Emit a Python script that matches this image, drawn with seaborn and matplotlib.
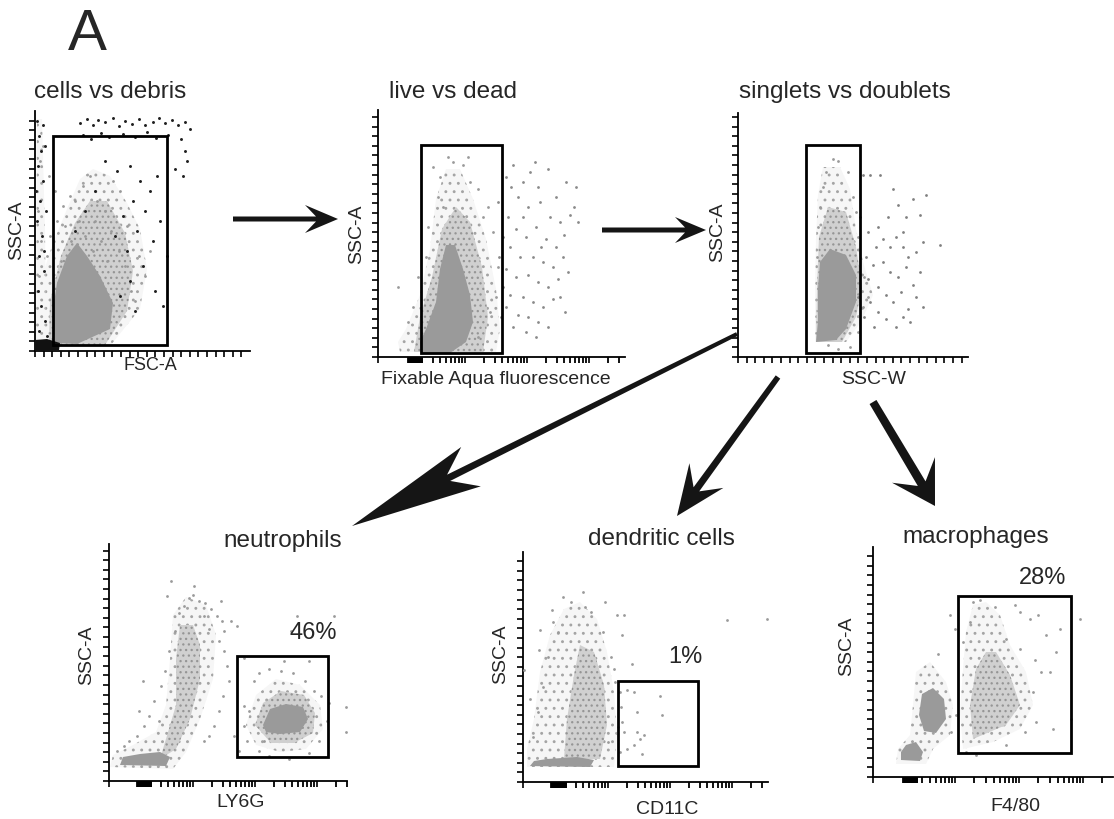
import numpy as np
import matplotlib
matplotlib.use("Agg")
import matplotlib.pyplot as plt
from matplotlib.patches import Rectangle, Polygon
import seaborn as sns

sns.set_theme(style="white")
plt.rcParams['font.family'] = ['Liberation Sans', 'DejaVu Sans']
plt.rcParams['hatch.linewidth'] = 0.9

FIG_W, FIG_H = 1114, 820

# ---------------------------------------------------------------
# data, in channel units (x, y from the origin)
# ---------------------------------------------------------------

# cells vs debris (FSC-A / SSC-A)
p1_halo = [(2,5),(75,5),(105,42),(112,82),(105,122),(92,148),(75,175),(58,182),(45,172),(32,142),(18,108),(5,68),(2,28)]
p1_edge = [(1,5),(11,5),(10,120),(7,232),(2,232)]
p1_band = [(14,6),(70,6),(92,40),(98,80),(90,118),(72,150),(55,150),(40,128),(26,95),(15,50)]
p1_core = [(20,8),(42,7),(75,22),(78,48),(65,75),(52,95),(42,108),(32,95),(22,68),(18,42)]
p1_debris = [(0,0),(24,1),(25,8),(12,12),(0,11)]
p1_dark = [(45,228),(52,232),(58,226),(63,231),(70,229),(78,233),(84,225),(90,230),(97,227),(104,232),
           (110,226),(118,229),(124,233),(130,228),(137,231),(143,226),(150,229),(155,222),(48,216),(56,212),
           (66,218),(74,214),(88,217),(100,214),(112,219),(121,213),(133,216),(146,212),(150,200),(152,190),
           (148,175),(140,182),(70,190),(82,180),(95,185),(105,170),(115,160),(122,175),(98,150),(88,135),
           (110,140),(125,130),(102,120),(118,110),(92,100),(80,115),(132,95),(108,85),(95,70),(120,60),
           (85,55),(60,160),(50,140),(40,120),(128,45),(100,40),(2,230),(4,215),(6,200),(3,185),(8,170),
           (5,150),(2,130),(7,115),(4,95),(9,80),(3,60),(6,45),(10,30),(4,20),(12,15),(8,226),(10,205),
           (1,160),(11,140),(9,100)]
p1_grey = [(40,150),(48,165),(55,175),(62,150),(70,140),(76,120),(84,100),(90,85),(96,60),(100,50),
           (60,130),(66,110),(72,90),(58,100),(50,115),(44,130),(36,110),(30,125),(26,90),(85,160),
           (78,170),(92,125),(104,95),(110,75),(115,100),(35,155),(28,145),(22,130),(15,115),(12,95),
           (20,160),(14,175),(5,190),(8,205),(3,140),(6,110),(4,75)]
p1_gate = (18, 6, 114, 209)

# live vs dead (Fixable Aqua / SSC-A)
p2_halo = [(22,5),(118,5),(122,28),(118,68),(108,118),(95,158),(82,188),(68,188),(58,158),(52,108),(42,62),(28,28),(20,15)]
p2_band = [(36,5),(105,5),(110,40),(104,90),(92,135),(78,150),(64,128),(54,80),(42,40)]
p2_core = [(43,4),(72,4),(88,15),(95,35),(92,62),(85,88),(77,112),(68,112),(62,88),(58,55),(48,28),(42,15)]
p2_dead = [(128,180),(135,192),(145,175),(152,185),(160,170),(170,188),(178,160),(188,175),(196,150),(140,160),
           (150,150),(162,155),(172,140),(182,135),(192,142),(130,140),(138,128),(148,120),(158,130),(168,118),
           (178,110),(186,122),(132,110),(142,100),(155,100),(165,95),(175,90),(185,100),(128,88),(138,80),
           (150,82),(160,75),(170,70),(180,78),(132,62),(145,60),(155,55),(165,50),(175,58),(140,42),
           (150,40),(160,35),(170,30),(148,25),(158,20),(125,70),(128,50),(135,30),(182,60),(190,85),
           (198,170),(200,135),(125,120),(187,45),(163,110),(145,140),(133,170),(157,195),(120,155),(121,100),(123,40)]
p2_grey = [(70,200),(75,195),(85,192),(62,180),(92,175),(100,168),(60,160),(110,150),(105,140),(50,130),
           (115,125),(48,100),(120,90),(118,60),(40,80),(35,50),(30,35),(112,45),(100,20),(20,70),
           (55,190),(90,200),(65,150)]
p2_gate = (43, 4, 81, 208)

# singlets vs doublets (SSC-W / SSC-A)
p3_halo = [(77,15),(108,15),(123,35),(135,62),(125,95),(118,128),(112,168),(102,190),(85,190),(80,162),(78,118),(77,68)]
p3_band = [(78,15),(104,15),(118,40),(124,70),(118,110),(108,145),(90,150),(81,120),(79,70)]
p3_core = [(78,15),(98,17),(108,28),(118,55),(118,82),(108,102),(92,108),(82,95),(80,68),(80,35)]
p3_doublets = [(125,182),(132,182),(142,182),(155,168),(160,152),(168,140),(175,158),(182,142),(188,162),(150,140),
               (140,130),(130,125),(145,118),(158,120),(165,110),(170,100),(178,105),(185,115),(202,112),(138,110),
               (128,100),(135,92),(145,95),(152,85),(160,80),(168,90),(175,72),(182,85),(130,78),(140,70),
               (148,62),(155,55),(163,65),(170,48),(178,60),(132,55),(140,45),(148,38),(158,30),(165,40),
               (172,35),(136,30),(126,40),(152,110),(120,60),(122,140),(185,50),(165,125)]
p3_grey = [(95,198),(100,196),(88,185),(110,185),(85,170),(115,160),(82,150),(118,145),(80,130),(120,120),
           (79,100),(126,80),(130,60),(125,50),(120,25),(112,10),(100,8),(90,12),(83,20)]
p3_gate = (68, 4, 54, 208)

# neutrophils (LY6G / SSC-A)
p4_halo = [(1,14),(64,12),(77,29),(91,62),(104,102),(107,146),(97,176),(77,184),(64,166),(61,122),(57,76),(47,49),(24,36),(4,26)]
p4_band = [(51,22),(67,32),(81,62),(91,102),(91,136),(84,156),(71,156),(67,122),(67,76),(57,42)]
p4_core = [(11,16),(57,15),(61,24),(51,29),(31,27),(14,24)]
p4_halo2 = [(137,56),(147,86),(167,102),(191,96),(211,76),(214,52),(197,32),(171,29),(147,36)]
p4_band2 = [(146,56),(154,78),(172,90),(195,86),(206,68),(204,48),(185,38),(162,38)]
p4_core2 = [(154,56),(161,72),(177,77),(194,74),(199,62),(191,49),(171,47),(157,49)]
p4_grey = [(80,183),(84,186),(90,180),(96,178),(102,172),(108,165),(113,160),(75,175),(70,168),(95,165),
           (100,152),(66,150),(110,140),(115,130),(60,130),(118,115),(56,110),(120,100),(52,95),(114,85),
           (45,80),(110,70),(40,65),(35,55),(105,55),(28,45),(20,40),(15,35),(8,30),(100,45),
           (95,40),(112,180),(34,100),(30,70),(125,45),(130,30),(135,75),(122,160),(128,155),(115,150),
           (50,60),(62,200),(58,185),(85,195),(140,70),(145,100),(150,108),(160,112),(172,110),(184,108),
           (196,100),(205,90),(212,85),(220,78),(138,40),(150,30),(160,25),(180,22),(200,28),(210,40),
           (218,60),(200,120),(175,120),(155,40),(135,55),(237,74),(237,49),(182,150),(188,165),(225,165),(135,123)]
p4_gate = (128, 24, 91, 101)
p4_pct = (204, 149, "46%")

# dendritic cells (CD11C / SSC-A)
p5_halo = [(4,15),(91,15),(94,47),(91,90),(84,130),(74,163),(57,180),(41,173),(27,147),(17,110),(11,63),(4,33)]
p5_band = [(41,23),(77,23),(84,57),(81,97),(71,130),(57,137),(51,107),(44,63)]
p5_core = [(7,16),(67,15),(71,22),(54,25),(24,23),(11,21)]
p5_grey = [(29,172),(17,152),(1,112),(7,83),(16,132),(94,167),(101,167),(99,147),(109,118),(91,113),
           (97,90),(82,180),(204,162),(244,163),(104,92),(111,90),(137,86),(139,67),(114,70),(114,50),
           (121,47),(117,43),(104,33),(97,30),(119,28),(101,50),(111,37),(99,60),(30,160),(40,185),
           (48,180),(62,175),(68,170),(35,150),(25,125),(20,95),(15,70),(80,150),(88,125),(92,100),
           (98,75),(95,55),(85,40),(10,45),(60,190)]
p5_gate = (95, 16, 80, 85)
p5_pct = (162, 126, "1%")

# macrophages (F4/80 / SSC-A)
p6_halo = [(23,13),(53,13),(60,28),(77,42),(80,72),(73,95),(57,115),(43,105),(40,72),(37,42),(25,28)]
p6_core = [(28,17),(47,16),(50,25),(43,35),(33,32),(28,25)]
p6_core2 = [(46,62),(49,83),(60,89),(71,78),(73,58),(63,44),(51,46)]
p6_halo2 = [(90,28),(120,35),(147,48),(160,72),(153,105),(137,132),(127,162),(113,175),(100,172),(93,145),(90,108),(87,65)]
p6_band = [(100,38),(133,52),(147,72),(137,102),(123,125),(113,125),(103,108),(97,72)]
p6_grey = [(77,162),(82,148),(65,123),(100,175),(107,177),(147,165),(165,162),(187,148),(173,142),(183,125),
           (168,105),(177,105),(162,117),(160,85),(163,55),(180,48),(207,158),(198,58),(152,45),(133,32),
           (103,22),(93,25),(78,45),(83,62),(157,158),(142,172),(122,170),(133,138),(147,128),(97,155),(90,135)]
p6_gate = (85, 24, 113, 157)
p6_pct = (170, 200, "28%")

titles = ["cells vs debris", "live vs dead", "singlets vs doublets", "neutrophils", "dendritic cells", "macrophages"]
xlabels = ["FSC-A", "Fixable Aqua fluorescence", "SSC-W", "LY6G", "CD11C", "F4/80"]

# ---------------------------------------------------------------
# layout in pixels: left, bottom, width, height (y from the top)
# ---------------------------------------------------------------
boxes = [(35, 352, 215, 240), (378, 358, 247, 247), (738, 358, 230, 244),
         (109, 782, 238, 237), (523, 783, 245, 230), (873, 778, 240, 230)]
# log axes: first decade start, decade width, dense bar near zero
log_axes = {1: (25, 62, (30, 44)), 3: (22, 62, (28, 42)), 4: (23, 62, (28, 43)), 5: (18, 64, (30, 44))}
title_pos = [(110, 98), (453, 98), (845, 98), (283, 547), (661, 545), (976, 543)]
xlabel_pos = [(150, 366), (496, 380), (874, 380), (241, 803), (667, 810), (1015, 807)]
ylabel_pos = [(17, 230), (357, 234), (718, 232), (87, 655), (501, 654), (847, 646)]

CORE = "#9a9a9a"
DOT = "#9a9a9a"

fig = plt.figure(figsize=(11.14, 8.2), dpi=100)


def fp(x, y):
    return x / FIG_W, 1 - y / FIG_H


def fill(ax, pts, kind, z=1):
    a = np.array(pts)
    if kind == "core":
        ax.fill(a[:, 0], a[:, 1], color=CORE, lw=0, zorder=z + 1)
    elif kind == "band":
        # denser speckle
        ax.fill(a[:, 0], a[:, 1], fc="#d0d0d0", ec="#959595", lw=0, hatch="...", zorder=z)
    else:
        ax.fill(a[:, 0], a[:, 1], fc="#f6f6f6", ec="#a4a4a4", lw=0, hatch="..", zorder=z)


def dots(ax, pts, color, s=4):
    a = np.array(pts)
    sns.scatterplot(x=a[:, 0], y=a[:, 1], ax=ax, s=s, color=color, linewidth=0, zorder=3)


def gate(ax, g):
    ax.add_patch(Rectangle((g[0], g[1]), g[2], g[3], fill=False, ec="black", lw=2.0, zorder=5))


axes = []
for i, (l, b, w, h) in enumerate(boxes):
    x0, y0 = fp(l, b)
    ax = fig.add_axes([x0, y0, w / FIG_W, h / FIG_H])
    ax.set_xlim(0, w)
    ax.set_ylim(0, h)
    for sp in ["top", "right"]:
        ax.spines[sp].set_visible(False)
    for sp in ["left", "bottom"]:
        ax.spines[sp].set_color("black")
        ax.spines[sp].set_linewidth(1.3)
    # y: linear channel ticks
    ax.set_yticks(np.arange(0, h, 9.6))
    # x: linear or log-like ticks
    if i in log_axes:
        s0, d, bar = log_axes[i]
        major = [0] + [s0 + k * d for k in range(1, 5) if s0 + k * d <= w]
        minor = [s0 + k * d + d * np.log10(m) for k in range(0, 5) for m in range(2, 10)]
        minor = [t for t in minor if bar[1] < t <= w]
        minor += list(np.arange(bar[0], bar[1] + 0.01, 0.5))
        ax.set_xticks(major)
        ax.set_xticks(minor, minor=True)
        ax.tick_params(axis="x", which="minor", direction="out", length=4, width=1.3, color="black", bottom=True)
    else:
        ax.set_xticks(np.arange(0, w, 8.6))
    ax.tick_params(direction="out", length=4.5, width=1.2, color="black", left=True, bottom=True,
                   labelleft=False, labelbottom=False)
    ax.set_facecolor("none")
    axes.append(ax)

a1, a2, a3, a4, a5, a6 = axes

# panel 1
fill(a1, p1_halo, "halo")
fill(a1, p1_edge, "halo")
fill(a1, p1_band, "band")
fill(a1, p1_core, "core")
dots(a1, p1_grey, DOT)
dots(a1, p1_dark, "#1e1e1e", 4.5)
a1.fill(np.array(p1_debris)[:, 0], np.array(p1_debris)[:, 1], color="#111111", lw=0, zorder=4)
gate(a1, p1_gate)

# panel 2
fill(a2, p2_halo, "halo")
fill(a2, p2_band, "band")
fill(a2, p2_core, "core")
dots(a2, p2_grey, DOT)
dots(a2, p2_dead, "#8a8a8a")
gate(a2, p2_gate)

# panel 3
fill(a3, p3_halo, "halo")
fill(a3, p3_band, "band")
fill(a3, p3_core, "core")
dots(a3, p3_grey, DOT)
dots(a3, p3_doublets, "#808080")
gate(a3, p3_gate)

# panel 4
fill(a4, p4_halo, "halo")
fill(a4, p4_band, "band")
fill(a4, p4_core, "core")
fill(a4, p4_halo2, "halo")
fill(a4, p4_band2, "band")
fill(a4, p4_core2, "core")
dots(a4, p4_grey, DOT)
gate(a4, p4_gate)
a4.text(p4_pct[0], p4_pct[1], p4_pct[2], fontsize=17, ha="center", va="center")

# panel 5
fill(a5, p5_halo, "halo")
fill(a5, p5_band, "band")
fill(a5, p5_core, "core")
dots(a5, p5_grey, DOT)
gate(a5, p5_gate)
a5.text(p5_pct[0], p5_pct[1], p5_pct[2], fontsize=17, ha="center", va="center")

# panel 6
fill(a6, p6_halo, "halo")
fill(a6, p6_halo2, "halo")
fill(a6, p6_band, "band")
fill(a6, p6_core, "core")
fill(a6, p6_core2, "core")
dots(a6, p6_grey, DOT)
gate(a6, p6_gate)
a6.text(p6_pct[0], p6_pct[1], p6_pct[2], fontsize=17, ha="center", va="center")

# text
for (x, y), t in zip(title_pos, titles):
    fig.text(*fp(x, y), t, fontsize=17.5, ha="center", va="baseline")
for i, ((x, y), t) in enumerate(zip(xlabel_pos, xlabels)):
    fig.text(*fp(x, y), t, fontsize=13 if i == 0 else 14, ha="center", va="center")
for (x, y) in ylabel_pos:
    fig.text(*fp(x, y), "SSC-A", fontsize=14, ha="center", va="center", rotation=90)
fig.text(*fp(68, 50), "A", fontsize=42, ha="left", va="baseline")


# arrows: tail, tip, head length, head half-width, notch, shaft half-width (tail, base)
arrows = [((233, 220), (338, 220), 33, 14, 22, 2.5, 2.5),
          ((602, 231), (706, 231), 31, 13, 21, 2.5, 2.5),
          ((737, 335), (352, 527), 133, 22, 108, 2.0, 3.5),
          ((778, 378), (677, 517), 50, 21, 33, 2.8, 3.5),
          ((873, 403), (935, 507), 42, 25, 26, 4.0, 4.5)]
for tail, tip, hl, hw, notch, sw0, sw1 in arrows:
    T = np.array(tail, float)
    P = np.array(tip, float)
    u = (P - T) / np.linalg.norm(P - T)
    n = np.array([-u[1], u[0]])
    base = P - notch * u
    pts = [T + sw0 * n, base + sw1 * n, P - hl * u + hw * n, P,
           P - hl * u - hw * n, base - sw1 * n, T - sw0 * n]
    fig.add_artist(Polygon([fp(*p) for p in pts], closed=True, transform=fig.transFigure,
                           fc="#151515", ec="none"))

fig.savefig("out.png", dpi=100, facecolor="white")
